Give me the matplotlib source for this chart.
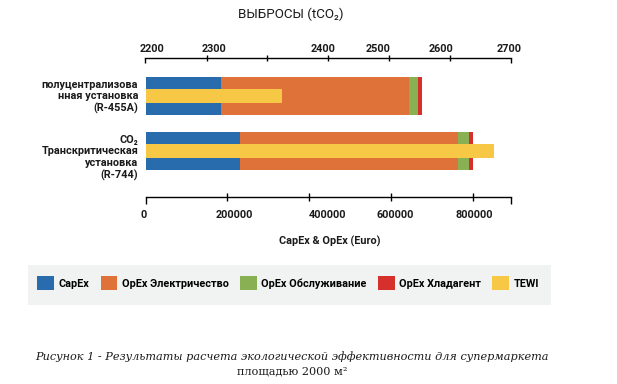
import matplotlib
matplotlib.use("Agg")
import matplotlib.pyplot as plt
import matplotlib.transforms as mtransforms
from matplotlib.patches import Rectangle, Patch
import numpy as np

# ---------------- data ----------------
systems = ["полуцентрализова\nнная установка\n(R-455A)",
           "CO\u2082\nТранскритическая\nустановка\n(R-744)"]
capex = [185000, 231000]
opex_electricity = [460000, 533000]
opex_service = [22000, 27500]
opex_refrigerant = [10000, 9500]
tewi = [2387, 2676]  # tCO2

series_names = ["CapEx", "OpEx Электричество", "OpEx Обслуживание",
                "OpEx Хладагент", "TEWI"]
colors = ["#296CAE", "#DE7239", "#8AB054", "#D6302C", "#F7C846"]

bottom_ticks = [200000, 400000, 600000, 800000]
bottom_labels = ["0", "200000", "400000", "600000", "800000"]
bottom_label_pos = [-5400, 216500, 445800, 609700, 805000]
top_labels = ["2200", "2300", "2400", "2500", "2600", "2700"]
top_label_pos = [2208.5, 2293.6, 2442, 2517.6, 2603.7, 2697.3]

XMAX = 895000
TOP_MIN, TOP_MAX = 2200, 2700

BOLD = ["Roboto", "DejaVu Sans"]
FS = 7.8

fig = plt.figure(figsize=(6.17, 3.84), dpi=100)
ax = fig.add_axes([145.5 / 617, 1 - 197.3 / 384, 366 / 617, (197.3 - 57.5) / 384])
axt = ax.twiny()

y = np.arange(len(systems))
h = 0.7
left = np.zeros(len(systems))
for vals, c in zip([capex, opex_electricity, opex_service, opex_refrigerant], colors[:4]):
    ax.barh(y, vals, height=h, left=left, color=c, linewidth=0, zorder=2)
    left = left + np.array(vals)

axt.barh(y, np.array(tewi) - TOP_MIN, height=0.25, left=TOP_MIN, color=colors[4],
         linewidth=0, zorder=3)

ax.set_xlim(0, XMAX)
axt.set_xlim(TOP_MIN, TOP_MAX)
ax.set_ylim(1.845, -0.705)

for a in (ax, axt):
    for s in a.spines.values():
        s.set_visible(False)
    a.set_yticks([])
ax.spines["bottom"].set_visible(True)
ax.spines["bottom"].set_linewidth(1.0)
axt.spines["top"].set_visible(True)
axt.spines["top"].set_linewidth(1.0)

# bottom axis ticks
ax.set_xticks(bottom_ticks)
ax.set_xticklabels([])
ax.set_xticks([0, XMAX], minor=True)
ax.tick_params(axis="x", which="major", direction="inout", length=6, width=1.0)
ax.tick_params(axis="x", which="minor", direction="out", length=5, width=1.0)

# top axis ticks
axt.set_xticks(np.linspace(TOP_MIN, TOP_MAX, 7)[1:-1])
axt.set_xticklabels([])
axt.set_xticks([TOP_MIN, TOP_MAX], minor=True)
axt.tick_params(axis="x", which="major", direction="inout", length=4, width=1.0)
axt.tick_params(axis="x", which="minor", direction="in", length=3.5, width=1.0)

# tick labels
for p, lab in zip(bottom_label_pos, bottom_labels):
    ax.text(p, 1 - 215.3 / 384, lab,
            transform=mtransforms.blended_transform_factory(ax.transData, fig.transFigure),
            ha="center", va="center", fontsize=FS, fontweight="bold", family=BOLD, color="#1a1a1a")
for p, lab in zip(top_label_pos, top_labels):
    axt.text(p, 1 - 48.7 / 384, lab,
             transform=mtransforms.blended_transform_factory(axt.transData, fig.transFigure),
             ha="center", va="center", fontsize=FS, fontweight="bold", family=BOLD, color="#1a1a1a")

# axis titles
fig.text(330 / 617, 1 - 241 / 384, "CapEx & OpEx (Euro)", ha="center", va="center",
         fontsize=FS, fontweight="bold", family=BOLD, color="#1a1a1a")
fig.text(291 / 617, 1 - 14 / 384, "ВЫБРОСЫ (tCO\u2082)", ha="center", va="center",
         fontsize=9.6, family=["Roboto", "DejaVu Sans"], color="#1a1a1a")

# category labels
label_y = [97, 158]
for yy, lab in zip(label_y, systems):
    fig.text(138.3 / 617, 1 - yy / 384, lab, ha="right", va="center", fontsize=FS,
             fontweight="bold", family=BOLD, color="#1a1a1a", linespacing=1.22)

# legend
fig.patches.append(Rectangle((27.5 / 617, 1 - 305 / 384), (550.6 - 27.5) / 617, 40 / 384,
                             transform=fig.transFigure, facecolor="#F1F2F2", edgecolor="none", zorder=0))
handles = [Patch(facecolor=c, edgecolor="none") for c in colors]
leg = fig.legend(handles, series_names, loc="center", bbox_to_anchor=(288 / 617, 1 - 283 / 384),
                 ncol=5, frameon=False, handlelength=1.55, handleheight=1.55, handletextpad=0.4,
                 columnspacing=1.05, prop={"family": BOLD, "weight": "bold", "size": FS})

# caption
fig.text(292 / 617, 1 - 357 / 384,
         "Рисунок 1 - Результаты расчета экологической эффективности для супермаркета",
         ha="center", va="center", fontsize=8.1, style="italic", family="DejaVu Serif", color="#1a1a1a")
fig.text(292 / 617, 1 - 371 / 384, "площадью 2000 м²", ha="center", va="center",
         fontsize=8.1, family="DejaVu Serif", color="#1a1a1a")

fig.savefig("out.png", dpi=100)
